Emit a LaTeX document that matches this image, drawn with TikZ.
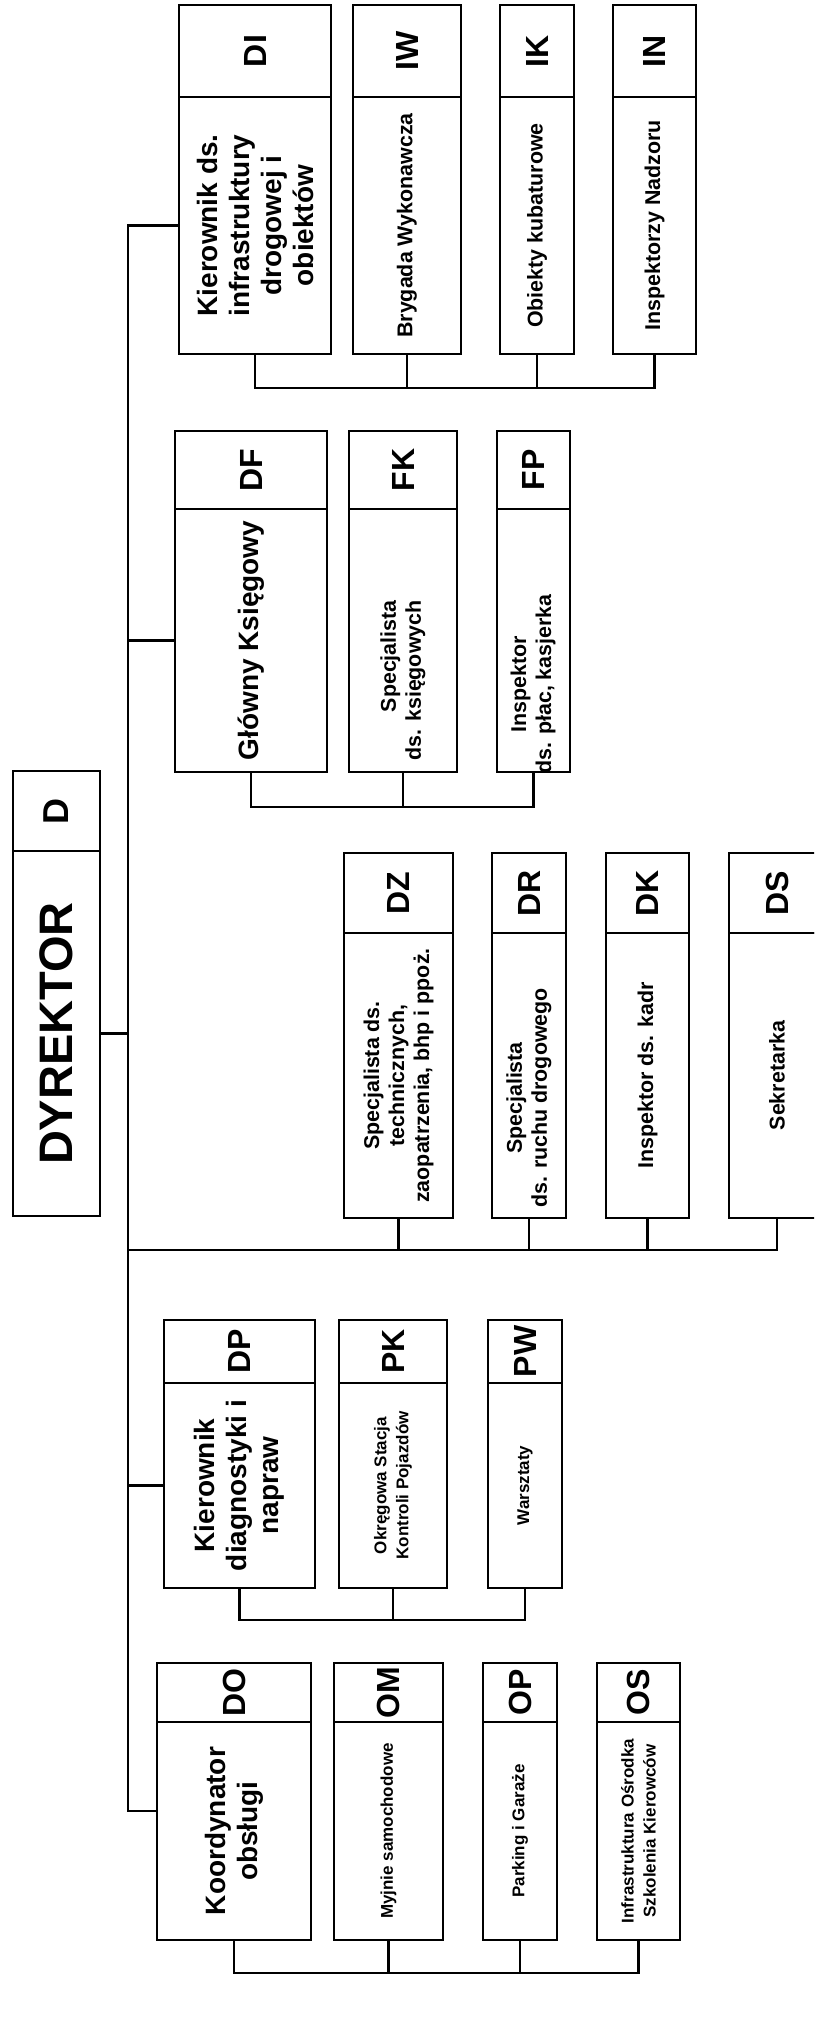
\documentclass[tikz,border=0pt]{standalone}
\usepackage{fontspec}
\setmainfont{Liberation Sans}
\tikzset{
  cell/.style={draw, line width=0.8pt, inner sep=0pt, rotate=90, align=center, font=\bfseries},
  codecell/.style={cell, font=\fontsize{16}{16}\selectfont\bfseries},
  titlefont/.style={font=\fontsize{14}{16}\selectfont\bfseries},
  smallfont/.style={font=\fontsize{10.7}{12.5}\selectfont\bfseries},
  tinyfont/.style={font=\fontsize{8.5}{11}\selectfont\bfseries},
  link/.style={line width=1.4pt}
}
\begin{document}
\begin{tikzpicture}[x=0.5pt, y=-0.5pt]
\useasboundingbox (0,0) rectangle (814,2024);
\clip (0,0) rectangle (814,2024);

% Director
\node[codecell, font=\fontsize{18}{18}\selectfont\bfseries, minimum width=40pt, minimum height=43.5pt] (d-code) at (56.5,811) {D};
\node[cell, font=\fontsize{23.5}{24}\selectfont\bfseries, minimum width=182.5pt, minimum height=43.5pt] (d) at (56.5,1033.5) {DYREKTOR};

% Units: code cell on top, name cell below
\foreach \n/\xl/\xr/\t/\d/\b/\code/\fnt/\txt in {
  di/179/331/5/97/354/DI/titlefont/{Kierownik ds.\\infrastruktury\\drogowej i\\obiektów},
  iw/353/461/5/97/354/IW/smallfont/{Brygada Wykonawcza},
  ik/500/574/5/97/354/IK/smallfont/{Obiekty kubaturowe},
  in/613/696/5/97/354/IN/smallfont/{Inspektorzy Nadzoru},
  df/175/327/431/509/772/DF/titlefont/{Główny Księgowy},
  fk/349/457/431/509/772/FK/smallfont/{},
  fp/497/570/431/509/772/FP/smallfont/{},
  dz/344/453/853/933/1218/DZ/smallfont/{Specjalista ds.\\technicznych,\\zaopatrzenia, bhp i ppoż.},
  dr/492/566/853/933/1218/DR/smallfont/{},
  dk/606/689/853/933/1218/DK/smallfont/{Inspektor ds. kadr},
  ds/729/825/853/933/1218/DS/smallfont/{Sekretarka},
  dp/164/315/1320/1383/1588/DP/titlefont/{Kierownik\\diagnostyki i\\napraw},
  pk/339/447/1320/1383/1588/PK/tinyfont/{Okręgowa Stacja\\Kontroli Pojazdów},
  pw/488/562/1320/1383/1588/PW/tinyfont/{Warsztaty},
  do/157/311/1663/1722/1940/DO/titlefont/{Koordynator\\obsługi},
  om/334/443/1663/1722/1940/OM/tinyfont/{Myjnie samochodowe},
  op/483/557/1663/1722/1940/OP/tinyfont/{Parking i Garaże},
  os/597/680/1663/1722/1940/OS/tinyfont/{Infrastruktura Ośrodka\\Szkolenia Kierowców}}{
  \node[codecell, minimum width={0.5pt*(\d-\t)}, minimum height={0.5pt*(\xr-\xl)}] (\n-code) at ({(\xl+\xr)/2},{(\t+\d)/2}) {\code};
  \node[cell, \fnt, minimum width={0.5pt*(\b-\d)}, minimum height={0.5pt*(\xr-\xl)}] (\n) at ({(\xl+\xr)/2},{(\d+\b)/2}) {\txt};
}

% Texts set off centre
\node[smallfont, rotate=90, align=right, anchor=east, inner sep=0pt] (fk-text) at (403,600) {Specjalista\\ds. księgowych};
\node[smallfont, rotate=90, align=center, inner sep=0pt] (fp-text) at (533,684) {Inspektor\\ds. płac, kasjerka};
\node[smallfont, rotate=90, align=center, inner sep=0pt] (dr-text) at (529,1098) {Specjalista\\ds. ruchu drogowego};

% Trunk
\coordinate (trunk) at (128,0);
\coordinate (do-link) at ([yshift=10pt]do.north);
\draw[link] (di.north) -| (trunk |- do-link) -- (do-link);
\foreach \n in {df,dp}
  \draw[link] (\n.north) -- (\n.north -| trunk);
\draw[link] (d.south) -- (d.south -| trunk);

% Staff bus
\coordinate (bus-d) at (0,1250);
\draw[link] (trunk |- bus-d) -| (ds.west);
\foreach \m in {dz,dr,dk}
  \draw[link] (\m.west) -- (\m.west |- bus-d);

% Brackets under the groups
\foreach \first/\last/\y/\mids in {di/in/388/{iw,ik}, df/fp/807/{fk}, dp/pw/1620/{pk}, do/os/1973/{om,op}}{
  \coordinate (bus) at (0,\y);
  \draw[link] (\first.west) |- (bus -| \last.west) -- (\last.west);
  \foreach \m in \mids
    \draw[link] (\m.west) -- (\m.west |- bus);
}
\end{tikzpicture}
\end{document}
